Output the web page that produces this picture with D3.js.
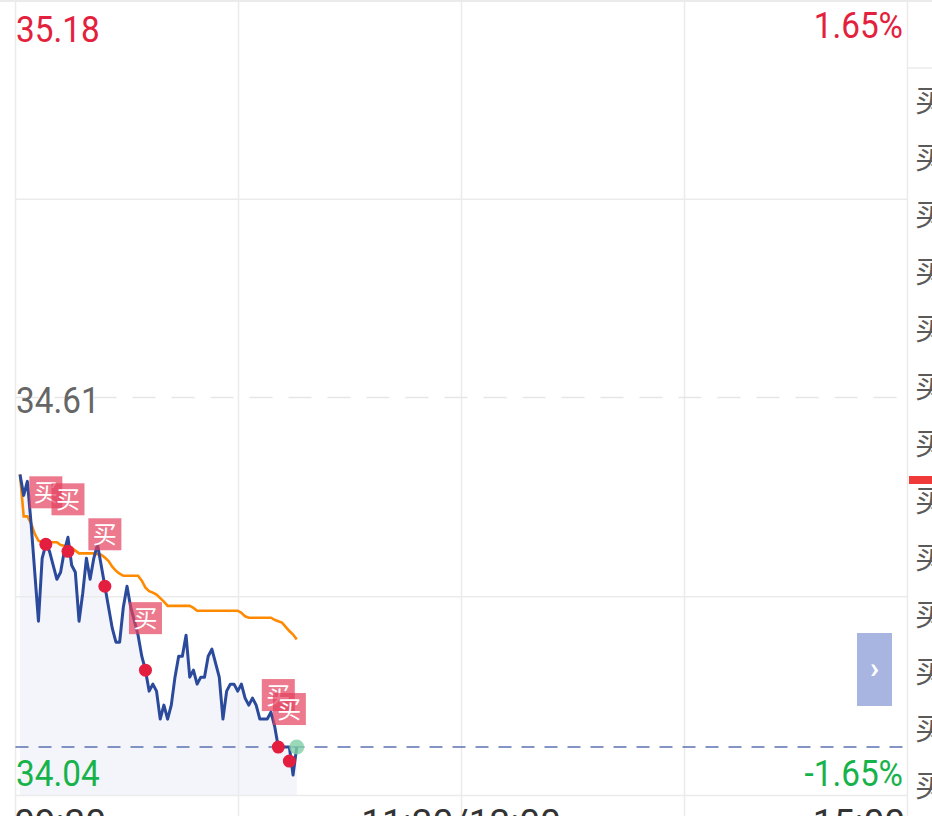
<!DOCTYPE html>
<html><head><meta charset="utf-8">
<script src="https://cdn.jsdelivr.net/npm/d3@7"></script>
<style>body{margin:0;background:#fff;overflow:hidden}svg{display:block}</style>
</head><body><svg id="c" width="932" height="816"></svg>
<script>
// ---- data ----
const prices = [34.50,34.47,34.49,34.43,34.36,34.29,34.38,34.40,34.39,34.37,
  34.35,34.36,34.39,34.41,34.37,34.36,34.29,34.33,34.38,34.35,
  34.38,34.40,34.37,34.34,34.31,34.28,34.26,34.26,34.31,34.34,
  34.31,34.29,34.27,34.24,34.22,34.19,34.20,34.19,34.15,34.17,
  34.15,34.17,34.21,34.24,34.24,34.27,34.21,34.22,34.20,34.21,
  34.21,34.24,34.25,34.23,34.21,34.15,34.19,34.20,34.20,34.19,
  34.20,34.18,34.17,34.18,34.17,34.15,34.15,34.15,34.16,34.14,
  34.11,34.11,34.11,34.11,34.07,34.11];
const avgPrices = [34.500,34.440,34.440,34.430,34.415,34.405,34.403,34.403,34.403,34.403,
  34.403,34.399,34.398,34.398,34.395,34.391,34.387,34.387,34.387,34.387,
  34.387,34.386,34.385,34.381,34.376,34.368,34.362,34.358,34.355,34.355,
  34.355,34.355,34.355,34.348,34.338,34.333,34.331,34.328,34.323,34.318,
  34.312,34.312,34.312,34.312,34.312,34.312,34.312,34.309,34.305,34.305,
  34.305,34.305,34.305,34.305,34.305,34.305,34.305,34.305,34.305,34.305,
  34.302,34.297,34.295,34.295,34.295,34.295,34.295,34.295,34.295,34.292,
  34.290,34.288,34.282,34.276,34.271,34.264];
const signalIdx = [7,13,23,34,70,73];
const signalPrice = [34.40,34.39,34.34,34.22,34.11,34.09];
const signalLabel = ["买","买","买","买","买","买"];
const priceTicks = ["35.18","34.61","34.04"];
const pctTicks = ["1.65%","-1.65%"];
const timeTicks = ["09:30","11:30/13:00","15:00"];
const bookLabels = ["买","买","买","买","买","买","买","买","买","买","买","买","买"];
const prevClose = 34.61, highPrice = 35.18, lowPrice = 34.04, lastPrice = 34.11;
const totalMinutes = 240;

// ---- drawing ----
const svg = d3.select("#c");
const L = 15.5, R = 907.5, T = 0.5, B = 795.5;
const x = d3.scaleLinear().domain([0, totalMinutes]).range([20, 905.6]);
const y = d3.scaleLinear().domain([lowPrice, highPrice]).range([796, -1]);
const NUM = "Roboto, 'Noto Sans', sans-serif";
const CJK = "'Noto Sans CJK SC', sans-serif";

svg.append("rect").attr("width",932).attr("height",816).attr("fill","#fff");

// area under price line
svg.append("path").datum(prices)
  .attr("d", d3.area().x((d,i)=>x(i)).y0(B).y1(d=>y(d)))
  .attr("fill","#f3f5fb");

// grid
const gx = d3.scaleLinear().domain([0,4]).range([L,R]);
svg.append("g").selectAll("line").data(d3.range(5)).join("line")
  .attr("x1",d=>gx(d)).attr("x2",d=>gx(d)).attr("y1",0).attr("y2",816)
  .attr("stroke","#ebebeb").attr("stroke-width",1.5);
const gy = d3.scaleLinear().domain([0,4]).range([T,B]);
svg.append("g").selectAll("line").data([0,1,3,4]).join("line")
  .attr("x1",L).attr("x2",R).attr("y1",d=>gy(d)).attr("y2",d=>gy(d))
  .attr("stroke","#ebebeb").attr("stroke-width",1.5);
svg.append("line").attr("x1",0).attr("x2",932).attr("y1",1).attr("y2",1)
  .attr("stroke","#ebebeb").attr("stroke-width",2);
// prev close dashed
svg.append("line").attr("x1",L).attr("x2",R).attr("y1",y(prevClose)).attr("y2",y(prevClose))
  .attr("stroke","#e6e6e6").attr("stroke-width",1.5).attr("stroke-dasharray","23 16");

// right panel
svg.append("line").attr("x1",R).attr("x2",932).attr("y1",68).attr("y2",68)
  .attr("stroke","#ebebeb").attr("stroke-width",1.5);
svg.append("g").selectAll("text").data(bookLabels).join("text")
  .attr("x",915).attr("y",(d,i)=>86 + 57.1*i + 25)
  .attr("font-family",CJK).attr("font-size",30).attr("fill","#5a5a5a").text(d=>d);
svg.append("rect").attr("x",909).attr("y",476).attr("width",23).attr("height",8).attr("fill","#f03a3a");

// last price dashed line
svg.append("line").attr("x1",L).attr("x2",R).attr("y1",y(lastPrice)).attr("y2",y(lastPrice))
  .attr("stroke","#5b71b3").attr("stroke-width",1.6).attr("stroke-dasharray","13 10");

// average line
svg.append("path").datum(avgPrices)
  .attr("d", d3.line().x((d,i)=>x(i)).y(d=>y(d)))
  .attr("fill","none").attr("stroke","#ff8a00").attr("stroke-width",2.6);
// price line
svg.append("path").datum(prices)
  .attr("d", d3.line().x((d,i)=>x(i)).y(d=>y(d)))
  .attr("fill","none").attr("stroke","#2b4a9b").attr("stroke-width",3).attr("stroke-linejoin","round");

// signal dots
svg.append("g").selectAll("circle").data(signalIdx).join("circle")
  .attr("cx",d=>x(d)).attr("cy",(d,i)=>y(signalPrice[i])).attr("r",6.5)
  .attr("fill","#e41e3f");
// current point
svg.append("circle").attr("cx",x(prices.length-1)).attr("cy",y(lastPrice)).attr("r",7.5)
  .attr("fill","#7fd0a6").attr("opacity",0.8);

// signal boxes
const sg = svg.append("g").selectAll("g").data(signalIdx).join("g")
  .attr("transform",(d,i)=>`translate(${x(d)},${y(signalPrice[i]) - 52})`);
sg.append("rect").attr("x",-16.5).attr("y",-16).attr("width",33).attr("height",32)
  .attr("fill","#e4405c").attr("opacity",0.7);
sg.append("text").attr("text-anchor","middle").attr("y",8.5).attr("font-family",CJK)
  .attr("font-size",24).attr("fill","#fff").text((d,i)=>signalLabel[i]);

// axis labels
function label(txt, xx, yy, anchor, color, sx){
  svg.append("text").attr("transform",`translate(${xx},${yy}) scale(${sx},1)`)
    .attr("text-anchor",anchor).attr("font-family",NUM).attr("font-size",37)
    .attr("fill",color).text(txt);
}
label(priceTicks[0], 16, 41.5, "start", "#e3213c", 0.9);
label(pctTicks[0], 903, 37.5, "end", "#e3213c", 0.9);
label(priceTicks[1], 16, 412.5, "start", "#666", 0.9);
label(priceTicks[2], 16, 786, "start", "#16b24a", 0.9);
label(pctTicks[1], 903, 786, "end", "#16b24a", 0.9);
label(timeTicks[0], 14, 835, "start", "#333", 1);
label(timeTicks[1], 461, 835, "middle", "#333", 1);
label(timeTicks[2], 905, 835, "end", "#333", 1);

// side button
svg.append("rect").attr("x",857).attr("y",633).attr("width",35).attr("height",73).attr("fill","#a9b5e1");
svg.append("text").attr("x",874.5).attr("y",678).attr("text-anchor","middle")
  .attr("font-family",NUM).attr("font-size",30).attr("font-weight","bold").attr("fill","#fff").text("›");
</script></body></html>
